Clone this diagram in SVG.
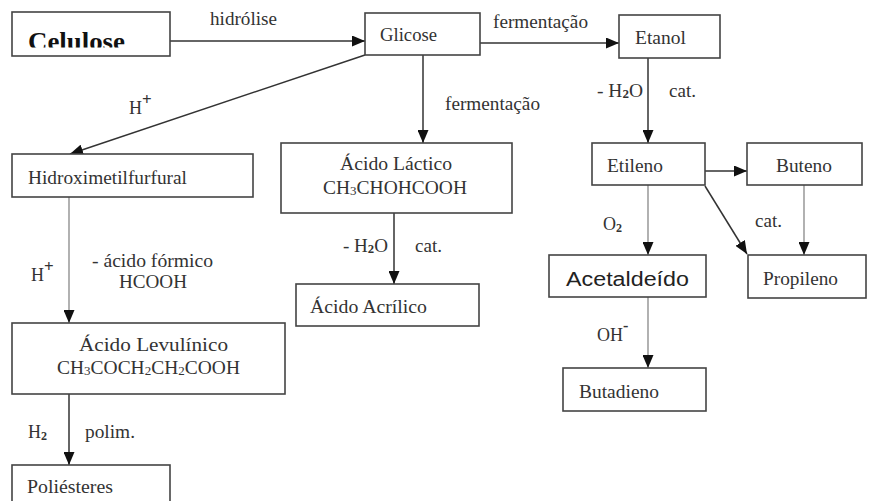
<svg xmlns="http://www.w3.org/2000/svg" width="881" height="501" viewBox="0 0 881 501">
<defs>
<marker id="ah" markerUnits="userSpaceOnUse" markerWidth="13" markerHeight="11" refX="13" refY="5.5" orient="auto">
<path d="M0,0 L13,5.5 L0,11 z" fill="#111"/>
</marker>
<clipPath id="cc"><rect x="12" y="12" width="158" height="35.5"/></clipPath>
<style>
.box{fill:#fff;stroke:#444;stroke-width:1.6}
.t{font-family:'Liberation Serif','Tinos','DejaVu Serif','Noto Serif',serif;font-size:18px;fill:#333}
.s{font-family:'Liberation Sans',Arial,sans-serif;font-size:20px;fill:#222}
.c{fill:none;stroke:#333;stroke-width:1.5;marker-end:url(#ah)}
.g{fill:none;stroke:#888;stroke-width:1.3;marker-end:url(#ah)}
.sub{font-size:12px}
.b{font-family:'Liberation Serif','Tinos','DejaVu Serif','Noto Serif',serif;font-weight:bold;font-size:25px;fill:#111}
</style>
</defs>
<g id="connectors">
<line class="c" x1="170" y1="41" x2="365" y2="41"/>
<line class="c" x1="480" y1="43" x2="619" y2="43"/>
<line class="c" x1="365" y1="55" x2="70" y2="154"/>
<line class="c" x1="423" y1="55" x2="423" y2="143"/>
<line class="c" x1="648" y1="58" x2="648" y2="143"/>
<line class="c" x1="705" y1="171" x2="747" y2="171"/>
<line class="c" x1="705" y1="186" x2="747" y2="254"/>
<line class="g" x1="804" y1="185" x2="804" y2="255"/>
<line class="g" x1="648" y1="185" x2="648" y2="255"/>
<line class="g" x1="648" y1="297" x2="648" y2="368"/>
<line class="g" x1="69" y1="197" x2="69" y2="323"/>
<line class="c" x1="394" y1="213" x2="394" y2="284"/>
<line class="c" x1="69" y1="394" x2="69" y2="465"/>
</g>
<g id="labels">
<text class="t" x="210" y="25" textLength="67" lengthAdjust="spacingAndGlyphs">hidrólise</text>
<text class="t" x="493" y="28" textLength="95" lengthAdjust="spacingAndGlyphs">fermentação</text>
<text class="t" x="445" y="110" textLength="95" lengthAdjust="spacingAndGlyphs">fermentação</text>
<text class="t" x="129" y="114">H<tspan dy="-9" font-size="17" font-weight="bold">+</tspan></text>
<text class="t" x="597" y="97" textLength="46" lengthAdjust="spacingAndGlyphs">- H<tspan class="sub" dy="1" font-weight="bold">2</tspan><tspan dy="-1">O</tspan></text>
<text class="t" x="669" y="97" textLength="27" lengthAdjust="spacingAndGlyphs">cat.</text>
<text class="t" x="31" y="281">H<tspan dy="-9" font-size="17" font-weight="bold">+</tspan></text>
<text class="t" x="92" y="267" textLength="121" lengthAdjust="spacingAndGlyphs">- ácido fórmico</text>
<text class="t" x="119" y="288" textLength="68" lengthAdjust="spacingAndGlyphs">HCOOH</text>
<text class="t" x="343" y="252" textLength="45" lengthAdjust="spacingAndGlyphs">- H<tspan class="sub" dy="1" font-weight="bold">2</tspan><tspan dy="-1">O</tspan></text>
<text class="t" x="415" y="252" textLength="27" lengthAdjust="spacingAndGlyphs">cat.</text>
<text class="t" x="603" y="230">O<tspan class="sub" dy="2" font-weight="bold">2</tspan></text>
<text class="t" x="755" y="227" textLength="27" lengthAdjust="spacingAndGlyphs">cat.</text>
<text class="t" x="597" y="341">OH<tspan dy="-10" font-size="16" font-weight="bold">-</tspan></text>
<text class="t" x="28" y="438">H<tspan class="sub" dy="2" font-weight="bold">2</tspan></text>
<text class="t" x="85" y="438" textLength="50" lengthAdjust="spacingAndGlyphs">polim.</text>
</g>
<g id="celulose">
<rect class="box" x="12" y="12" width="158" height="44"/>
<text class="b" x="28" y="50" textLength="97" lengthAdjust="spacingAndGlyphs" clip-path="url(#cc)">Celulose</text>
</g>
<g id="glicose">
<rect class="box" x="365" y="13" width="115" height="42"/>
<text class="t" x="380" y="41" textLength="57" lengthAdjust="spacingAndGlyphs">Glicose</text>
</g>
<g id="etanol">
<rect class="box" x="619" y="15" width="101" height="43"/>
<text class="t" x="635" y="44" textLength="51" lengthAdjust="spacingAndGlyphs">Etanol</text>
</g>
<g id="hidroximetilfurfural">
<rect class="box" x="12" y="154" width="241" height="43"/>
<text class="t" x="28" y="184" textLength="159" lengthAdjust="spacingAndGlyphs">Hidroximetilfurfural</text>
</g>
<g id="acido-lactico">
<rect class="box" x="281" y="143" width="231" height="70"/>
<text class="t" x="340" y="170" textLength="112" lengthAdjust="spacingAndGlyphs">Ácido Láctico</text>
<text class="t" x="323" y="194" textLength="144" lengthAdjust="spacingAndGlyphs">CH<tspan class="sub" dy="1">3</tspan><tspan dy="-1">CHOHCOOH</tspan></text>
</g>
<g id="etileno">
<rect class="box" x="592" y="143" width="113" height="42"/>
<text class="t" x="607" y="172" textLength="56" lengthAdjust="spacingAndGlyphs">Etileno</text>
</g>
<g id="buteno">
<rect class="box" x="747" y="143" width="115" height="42"/>
<text class="t" x="776" y="172" textLength="56" lengthAdjust="spacingAndGlyphs">Buteno</text>
</g>
<g id="acetaldeido">
<rect class="box" x="549" y="255" width="157" height="42"/>
<text class="s" x="566" y="286" textLength="123" lengthAdjust="spacingAndGlyphs">Acetaldeído</text>
</g>
<g id="propileno">
<rect class="box" x="748" y="255" width="118" height="43"/>
<text class="t" x="763" y="285" textLength="75" lengthAdjust="spacingAndGlyphs">Propileno</text>
</g>
<g id="acido-acrilico">
<rect class="box" x="296" y="284" width="183" height="42"/>
<text class="t" x="310" y="313" textLength="117" lengthAdjust="spacingAndGlyphs">Ácido Acrílico</text>
</g>
<g id="acido-levulinico">
<rect class="box" x="12" y="323" width="273" height="71"/>
<text class="t" x="79" y="351" textLength="149" lengthAdjust="spacingAndGlyphs">Ácido Levulínico</text>
<text class="t" x="57" y="374" textLength="183" lengthAdjust="spacingAndGlyphs">CH<tspan class="sub" dy="1">3</tspan><tspan dy="-1">COCH</tspan><tspan class="sub" dy="1">2</tspan><tspan dy="-1">CH</tspan><tspan class="sub" dy="1">2</tspan><tspan dy="-1">COOH</tspan></text>
</g>
<g id="butadieno">
<rect class="box" x="563" y="368" width="143" height="43"/>
<text class="t" x="579" y="398" textLength="80" lengthAdjust="spacingAndGlyphs">Butadieno</text>
</g>
<g id="poliesteres">
<rect class="box" x="12" y="465" width="158" height="50"/>
<text class="t" x="27" y="493" textLength="86" lengthAdjust="spacingAndGlyphs">Poliésteres</text>
</g>
</svg>
